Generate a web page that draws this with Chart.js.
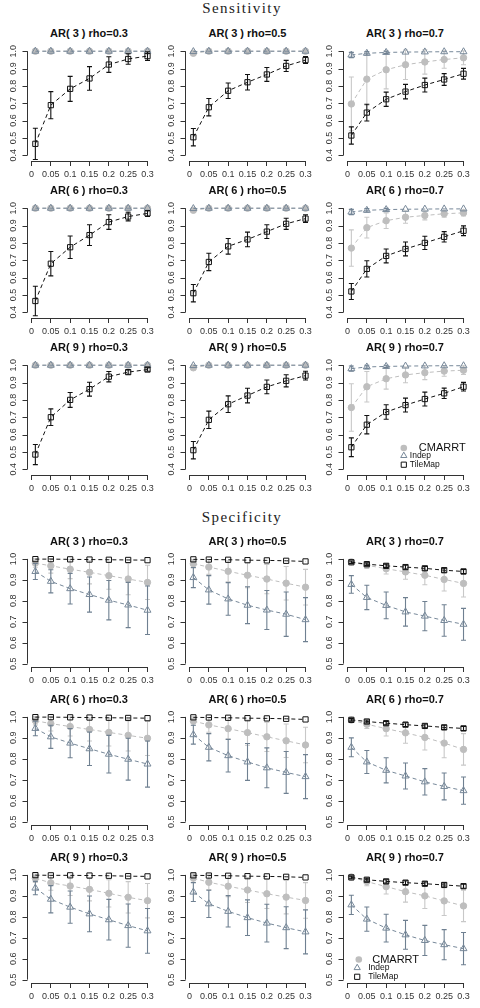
<!DOCTYPE html>
<html>
<head>
<meta charset="utf-8">
<script src="https://cdn.jsdelivr.net/npm/chart.js@4"></script>
<style>
  html, body { margin: 0; padding: 0; background: #fff; }
  #page { position: relative; width: 480px; height: 1008px; overflow: hidden; background: #fff; }
  .heading { position: absolute; left: 0; width: 484px; text-align: center; font-family: "Liberation Serif", "DejaVu Serif", serif; font-size: 15px; line-height: 15px; letter-spacing: 1.4px; color: #222; }
  .ptitle { position: absolute; width: 125px; text-align: center; font-family: "Liberation Sans", Arial, sans-serif; font-weight: bold; font-size: 11px; line-height: 12px; color: #111; white-space: nowrap; }
  canvas { position: absolute; }
</style>
</head>
<body>
<div id="page"></div>
<script>
// x positions of the points and the axis ticks
var X_VALUES = [0.01, 0.05, 0.1, 0.15, 0.2, 0.25, 0.3];
var X_TICKS = [0, 0.05, 0.1, 0.15, 0.2, 0.25, 0.3];
var X_TICK_LABELS = ['0', '0.05', '0.1', '0.15', '0.2', '0.25', '0.3'];
var SENS_Y_TICKS = [0.4, 0.5, 0.6, 0.7, 0.8, 0.9, 1.0];
var SENS_Y_LABELS = ['0.4', '0.5', '0.6', '0.7', '0.8', '0.9', '1.0'];
var SPEC_Y_TICKS = [0.5, 0.6, 0.7, 0.8, 0.9, 1.0];
var SPEC_Y_LABELS = ['0.5', '0.6', '0.7', '0.8', '0.9', '1.0'];
var AR_ORDERS = [3, 6, 9];
var RHOS = ['0.3', '0.5', '0.7'];
var SERIES = ['CMARRT', 'Indep', 'TileMap'];
var HEADINGS = ['Sensitivity', 'Specificity'];

// panels in reading order: AR3 rho .3/.5/.7, AR6 ..., AR9 ...
var SENS_CMARRT = [
  [1, 1, 1, 1, 1, 1, 1],
  [0.988, 1, 1, 1, 1, 1, 1],
  [0.696, 0.839, 0.893, 0.922, 0.938, 0.952, 0.962],
  [1, 1, 1, 1, 1, 1, 1],
  [0.988, 1, 1, 1, 1, 1, 1],
  [0.77, 0.888, 0.928, 0.948, 0.958, 0.968, 0.973],
  [1, 1, 1, 1, 1, 1, 1],
  [0.985, 1, 1, 1, 1, 1, 1],
  [0.756, 0.876, 0.922, 0.944, 0.957, 0.966, 0.971]
];
var SENS_CMARRT_ERR = [
  [0, 0, 0, 0, 0, 0, 0],
  [0.012, 0, 0, 0, 0, 0, 0],
  [0.155, 0.15, 0.11, 0.085, 0.07, 0.05, 0.04],
  [0, 0, 0, 0, 0, 0, 0],
  [0.012, 0, 0, 0, 0, 0, 0],
  [0.105, 0.06, 0.045, 0.035, 0.025, 0.02, 0.018],
  [0, 0, 0, 0, 0, 0, 0],
  [0.012, 0, 0, 0, 0, 0, 0],
  [0.137, 0.088, 0.06, 0.045, 0.04, 0.03, 0.025]
];
var SENS_INDEP = [
  [1, 1, 1, 1, 1, 1, 1],
  [0.998, 1, 1, 1, 1, 1, 1],
  [0.978, 0.988, 0.993, 0.995, 0.996, 0.997, 0.997],
  [1, 1, 1, 1, 1, 1, 1],
  [0.998, 1, 1, 1, 1, 1, 1],
  [0.978, 0.988, 0.992, 0.994, 0.995, 0.996, 0.996],
  [1, 1, 1, 1, 1, 1, 1],
  [0.998, 1, 1, 1, 1, 1, 1],
  [0.98, 0.99, 0.993, 0.995, 0.996, 0.997, 0.997]
];
var SENS_INDEP_ERR = [
  [0, 0, 0, 0, 0, 0, 0],
  [0.004, 0, 0, 0, 0, 0, 0],
  [0.015, 0.01, 0.007, 0.005, 0.004, 0.004, 0.004],
  [0, 0, 0, 0, 0, 0, 0],
  [0.004, 0, 0, 0, 0, 0, 0],
  [0.015, 0.01, 0.007, 0.005, 0.004, 0.004, 0.004],
  [0, 0, 0, 0, 0, 0, 0],
  [0.004, 0, 0, 0, 0, 0, 0],
  [0.015, 0.01, 0.007, 0.005, 0.004, 0.004, 0.004]
];
var SENS_TILEMAP = [
  [0.466, 0.689, 0.783, 0.843, 0.923, 0.955, 0.972],
  [0.504, 0.677, 0.772, 0.821, 0.866, 0.915, 0.949],
  [0.514, 0.646, 0.723, 0.767, 0.805, 0.837, 0.87],
  [0.465, 0.68, 0.775, 0.845, 0.92, 0.952, 0.97],
  [0.51, 0.69, 0.78, 0.82, 0.865, 0.91, 0.94],
  [0.52, 0.65, 0.725, 0.765, 0.8, 0.835, 0.87],
  [0.485, 0.7, 0.8, 0.862, 0.934, 0.96, 0.975],
  [0.51, 0.685, 0.775, 0.825, 0.875, 0.91, 0.94],
  [0.527, 0.657, 0.73, 0.77, 0.805, 0.838, 0.876]
];
var SENS_TILEMAP_ERR = [
  [0.09, 0.078, 0.072, 0.068, 0.045, 0.03, 0.025],
  [0.05, 0.05, 0.045, 0.045, 0.04, 0.032, 0.02],
  [0.05, 0.048, 0.041, 0.042, 0.04, 0.034, 0.031],
  [0.085, 0.07, 0.065, 0.06, 0.042, 0.025, 0.017],
  [0.05, 0.05, 0.045, 0.042, 0.04, 0.032, 0.022],
  [0.046, 0.047, 0.04, 0.04, 0.038, 0.03, 0.028],
  [0.058, 0.048, 0.043, 0.04, 0.03, 0.012, 0.01],
  [0.05, 0.05, 0.048, 0.042, 0.04, 0.035, 0.025],
  [0.054, 0.053, 0.042, 0.04, 0.04, 0.03, 0.025]
];

var SPEC_CMARRT = [
  [0.98, 0.967, 0.951, 0.936, 0.92, 0.904, 0.888],
  [0.977, 0.961, 0.941, 0.922, 0.904, 0.884, 0.865],
  [0.986, 0.97, 0.953, 0.938, 0.922, 0.902, 0.883],
  [0.982, 0.968, 0.954, 0.94, 0.926, 0.912, 0.898],
  [0.98, 0.962, 0.944, 0.925, 0.905, 0.886, 0.866],
  [0.985, 0.965, 0.944, 0.924, 0.902, 0.875, 0.845],
  [0.984, 0.962, 0.947, 0.931, 0.912, 0.893, 0.877],
  [0.985, 0.965, 0.946, 0.928, 0.91, 0.894, 0.878],
  [0.99, 0.968, 0.944, 0.92, 0.9, 0.876, 0.852]
];
var SPEC_CMARRT_ERR = [
  [0.02, 0.035, 0.045, 0.055, 0.065, 0.075, 0.082],
  [0.02, 0.035, 0.05, 0.06, 0.07, 0.08, 0.085],
  [0.006, 0.015, 0.025, 0.035, 0.045, 0.055, 0.065],
  [0.02, 0.035, 0.045, 0.055, 0.065, 0.075, 0.082],
  [0.02, 0.035, 0.05, 0.06, 0.07, 0.08, 0.085],
  [0.006, 0.02, 0.035, 0.05, 0.06, 0.07, 0.075],
  [0.02, 0.035, 0.045, 0.055, 0.065, 0.075, 0.082],
  [0.02, 0.035, 0.05, 0.06, 0.07, 0.08, 0.085],
  [0.006, 0.02, 0.035, 0.05, 0.06, 0.07, 0.075]
];
var SPEC_INDEP = [
  [0.94, 0.893, 0.858, 0.83, 0.803, 0.78, 0.755],
  [0.911, 0.852, 0.809, 0.779, 0.756, 0.736, 0.71],
  [0.878, 0.816, 0.778, 0.747, 0.727, 0.706, 0.688],
  [0.945, 0.905, 0.875, 0.848, 0.822, 0.798, 0.775],
  [0.915, 0.855, 0.815, 0.785, 0.757, 0.735, 0.715],
  [0.855, 0.785, 0.745, 0.718, 0.69, 0.668, 0.648],
  [0.937, 0.884, 0.846, 0.814, 0.786, 0.758, 0.733],
  [0.918, 0.862, 0.826, 0.796, 0.77, 0.748, 0.728],
  [0.857, 0.789, 0.746, 0.714, 0.687, 0.667, 0.648]
];
var SPEC_INDEP_ERR = [
  [0.038, 0.055, 0.073, 0.084, 0.094, 0.108, 0.116],
  [0.048, 0.068, 0.078, 0.088, 0.093, 0.106, 0.105],
  [0.042, 0.058, 0.064, 0.068, 0.07, 0.075, 0.076],
  [0.035, 0.055, 0.07, 0.08, 0.09, 0.1, 0.11],
  [0.045, 0.065, 0.078, 0.088, 0.095, 0.1, 0.105],
  [0.045, 0.055, 0.06, 0.062, 0.063, 0.064, 0.065],
  [0.032, 0.065, 0.077, 0.085, 0.097, 0.103, 0.107],
  [0.045, 0.065, 0.075, 0.085, 0.09, 0.1, 0.105],
  [0.046, 0.058, 0.066, 0.069, 0.072, 0.072, 0.077]
];
var SPEC_TILEMAP = [
  [0.999, 0.999, 0.998, 0.997, 0.996, 0.995, 0.994],
  [0.998, 0.997, 0.996, 0.994, 0.993, 0.991, 0.988],
  [0.984, 0.975, 0.967, 0.961, 0.955, 0.946, 0.94],
  [0.999, 0.999, 0.998, 0.997, 0.996, 0.995, 0.994],
  [0.998, 0.997, 0.996, 0.994, 0.993, 0.991, 0.988],
  [0.986, 0.978, 0.97, 0.963, 0.957, 0.95, 0.945],
  [0.999, 0.998, 0.998, 0.997, 0.996, 0.994, 0.993],
  [0.998, 0.997, 0.996, 0.994, 0.993, 0.991, 0.988],
  [0.988, 0.977, 0.969, 0.963, 0.958, 0.952, 0.946]
];
var SPEC_TILEMAP_ERR = [
  [0.003, 0.003, 0.003, 0.003, 0.003, 0.003, 0.003],
  [0.003, 0.003, 0.003, 0.003, 0.003, 0.003, 0.003],
  [0.006, 0.007, 0.008, 0.009, 0.009, 0.01, 0.01],
  [0.003, 0.003, 0.003, 0.003, 0.003, 0.003, 0.003],
  [0.003, 0.003, 0.003, 0.003, 0.003, 0.003, 0.003],
  [0.006, 0.007, 0.008, 0.009, 0.009, 0.01, 0.01],
  [0.003, 0.003, 0.003, 0.003, 0.003, 0.003, 0.003],
  [0.003, 0.003, 0.003, 0.003, 0.003, 0.003, 0.003],
  [0.006, 0.007, 0.008, 0.009, 0.009, 0.01, 0.01]
];

// styling
var SANS = '"Liberation Sans", Arial, Helvetica, sans-serif';
var COLORS = { CMARRT: '#bebebe', Indep: '#778899', TileMap: '#111111' };
var ERR_COLORS = { CMARRT: '#c8c8c8', Indep: '#6f8091', TileMap: '#111111' };
var AXIS_COLOR = '#333';

// layout (pixels)
var COL_LEFT = [26.5, 185, 342.5];
var AREA_W = 125, AREA_H = 118;
var GROUPS = [
  { heading: 0, headTop: 1, rowTop: [43, 200, 357], yMin: 0.367, yMax: 1.03, ticks: SENS_Y_TICKS, labels: SENS_Y_LABELS,
    data: { CMARRT: [SENS_CMARRT, SENS_CMARRT_ERR], Indep: [SENS_INDEP, SENS_INDEP_ERR], TileMap: [SENS_TILEMAP, SENS_TILEMAP_ERR] },
    legend: { circle: [60.8, 88], rows: [[75.8, 88], [66.8, 96], [66.8, 105]], marks: [[60.8, 88], [60.8, 95.7], [60.8, 104.7]] } },
  { heading: 1, headTop: 509.5, rowTop: [548.5, 706.5, 864.5], yMin: 0.484, yMax: 1.033, ticks: SPEC_Y_TICKS, labels: SPEC_Y_LABELS,
    data: { CMARRT: [SPEC_CMARRT, SPEC_CMARRT_ERR], Indep: [SPEC_INDEP, SPEC_INDEP_ERR], TileMap: [SPEC_TILEMAP, SPEC_TILEMAP_ERR] },
    legend: { rows: [[29.2, 91.5], [25.2, 100], [25.2, 109]], marks: [[15.8, 91.5], [14.2, 99.8], [14.2, 108.8]] } }
];

function drawMark(ctx, kind, x, y, r){
  ctx.beginPath();
  if (kind === 'CMARRT'){
    ctx.arc(x, y, r, 0, Math.PI * 2);
    ctx.fillStyle = COLORS.CMARRT; ctx.fill();
  } else if (kind === 'Indep'){
    ctx.moveTo(x, y - r); ctx.lineTo(x + r * 0.866, y + r * 0.5); ctx.lineTo(x - r * 0.866, y + r * 0.5); ctx.closePath();
    ctx.strokeStyle = COLORS.Indep; ctx.lineWidth = 1; ctx.stroke();
  } else {
    ctx.rect(x - r, y - r, 2 * r, 2 * r);
    ctx.strokeStyle = COLORS.TileMap; ctx.lineWidth = 1; ctx.stroke();
  }
}

// error bars, drawn under each series' own points
var errorBars = {
  id: 'errorBars',
  beforeDatasetDraw: function(chart, args){
    var ds = chart.data.datasets[args.index];
    if (!ds.errors) return;
    var xs = chart.scales.x, ys = chart.scales.y, ctx = chart.ctx;
    ctx.save();
    ctx.strokeStyle = ds.errorColor; ctx.lineWidth = 1.1; ctx.setLineDash([]);
    ds.data.forEach(function(p, i){
      var e = ds.errors[i];
      if (!e) return;
      var px = xs.getPixelForValue(p.x);
      var top = ys.getPixelForValue(p.y + e), bot = ys.getPixelForValue(p.y - e);
      if (bot - top < 2) return;
      ctx.beginPath();
      ctx.moveTo(px, top); ctx.lineTo(px, bot);
      ctx.moveTo(px - 2.5, top); ctx.lineTo(px + 2.5, top);
      ctx.moveTo(px - 2.5, bot); ctx.lineTo(px + 2.5, bot);
      ctx.stroke();
    });
    ctx.restore();
  }
};

// R-like axes: x axis line, y axis with rotated labels, optional legend
var rAxes = {
  id: 'rAxes',
  afterDraw: function(chart){
    var o = chart.options.plugins.rAxes;
    var xs = chart.scales.x, ys = chart.scales.y, ctx = chart.ctx, a = chart.chartArea;
    ctx.save();
    ctx.strokeStyle = AXIS_COLOR; ctx.lineWidth = 1;
    var yb = Math.round(a.bottom) + 0.5;
    ctx.beginPath();
    ctx.moveTo(xs.getPixelForValue(X_TICKS[0]), yb);
    ctx.lineTo(xs.getPixelForValue(X_TICKS[X_TICKS.length - 1]), yb);
    ctx.stroke();
    var xl = Math.round(a.left) + 0.5;
    ctx.beginPath();
    ctx.moveTo(xl, ys.getPixelForValue(o.ticks[0]));
    ctx.lineTo(xl, ys.getPixelForValue(o.ticks[o.ticks.length - 1]));
    o.ticks.forEach(function(v){
      var py = Math.round(ys.getPixelForValue(v)) + 0.5;
      ctx.moveTo(xl, py); ctx.lineTo(xl - 5, py);
    });
    ctx.stroke();
    ctx.fillStyle = '#333'; ctx.font = '9px ' + SANS;
    ctx.textAlign = 'center'; ctx.textBaseline = 'middle';
    o.ticks.forEach(function(v, i){
      ctx.save();
      ctx.translate(a.left - 13, ys.getPixelForValue(v));
      ctx.rotate(-Math.PI / 2);
      ctx.fillText(o.labels[i], 0, 0);
      ctx.restore();
    });
    if (o.legend){
      var lg = o.legend;
      SERIES.forEach(function(s, i){
        var m = lg.marks[i], t = lg.rows[i];
        drawMark(ctx, s, a.left + m[0], a.top + m[1], s === 'CMARRT' ? 3.3 : (s === 'Indep' ? 3.6 : 2.6));
        ctx.fillStyle = '#111';
        ctx.font = (s === 'CMARRT' ? '11px ' : '8.5px ') + SANS;
        ctx.textAlign = 'left'; ctx.textBaseline = 'middle';
        ctx.fillText(s, a.left + t[0], a.top + t[1]);
      });
    }
    ctx.restore();
  }
};

var page = document.getElementById('page');
var STYLE = {
  CMARRT: { pointStyle: 'circle', radius: 3.2, fill: COLORS.CMARRT, order: 3 },
  Indep: { pointStyle: 'triangle', radius: 4, fill: 'rgba(0,0,0,0)', order: 2 },
  TileMap: { pointStyle: 'rect', radius: 3.7, fill: 'rgba(0,0,0,0)', order: 1 }
};

GROUPS.forEach(function(g){
  var h = document.createElement('div');
  h.className = 'heading'; h.style.top = g.headTop + 'px';
  h.textContent = HEADINGS[g.heading];
  page.appendChild(h);

  for (var r = 0; r < 3; r++){
    for (var c = 0; c < 3; c++){
      var p = r * 3 + c;
      var left = COL_LEFT[c], top = g.rowTop[r];
      var yOne = top + (g.yMax - 1) / (g.yMax - g.yMin) * AREA_H;

      var t = document.createElement('div');
      t.className = 'ptitle';
      t.style.left = left + 'px';
      t.style.top = (yOne - 15 - 6) + 'px';
      t.textContent = 'AR( ' + AR_ORDERS[r] + ' ) rho=' + RHOS[c];
      page.appendChild(t);

      var cv = document.createElement('canvas');
      var cw = 26 + AREA_W + 6, ch = 2 + AREA_H + 24;
      cv.width = cw; cv.height = ch;
      cv.style.width = cw + 'px'; cv.style.height = ch + 'px';
      cv.style.left = (left - 26) + 'px';
      cv.style.top = (top - 2) + 'px';
      page.appendChild(cv);

      var datasets = SERIES.map(function(s){
        var st = STYLE[s];
        var means = g.data[s][0][p], errs = g.data[s][1][p];
        return {
          label: s,
          data: X_VALUES.map(function(x, i){ return { x: x, y: means[i] }; }),
          errors: errs,
          errorColor: ERR_COLORS[s],
          order: st.order,
          borderColor: COLORS[s],
          borderWidth: 1,
          borderDash: [4, 3],
          backgroundColor: st.fill,
          pointStyle: st.pointStyle,
          pointRadius: st.radius,
          pointBorderWidth: 1,
          pointBorderColor: COLORS[s],
          pointBackgroundColor: st.fill,
          pointHoverRadius: st.radius,
          showLine: true,
          tension: 0,
          clip: false
        };
      });

      new Chart(cv.getContext('2d'), {
        type: 'line',
        data: { datasets: datasets },
        options: {
          animation: false, responsive: false, events: [],
          layout: { padding: { left: 26, top: 2, right: 6, bottom: 0 } },
          plugins: {
            legend: { display: false }, tooltip: { enabled: false }, title: { display: false },
            rAxes: { ticks: g.ticks, labels: g.labels, legend: p === 8 ? g.legend : null }
          },
          scales: {
            x: {
              type: 'linear', min: -0.0116, max: 0.3116,
              afterBuildTicks: function(s){ s.ticks = X_TICKS.map(function(v){ return { value: v }; }); },
              afterFit: function(s){ s.height = 24; },
              grid: { drawOnChartArea: false, drawTicks: true, tickLength: 5, color: AXIS_COLOR, lineWidth: 1 },
              border: { display: false },
              ticks: {
                autoSkip: false, maxRotation: 0, minRotation: 0, padding: 3, color: '#333',
                font: { size: 9, family: SANS },
                callback: function(v, i){ return X_TICK_LABELS[i]; }
              }
            },
            y: { type: 'linear', display: false, min: g.yMin, max: g.yMax }
          }
        },
        plugins: [errorBars, rAxes]
      });
    }
  }
});
</script>
</body>
</html>
